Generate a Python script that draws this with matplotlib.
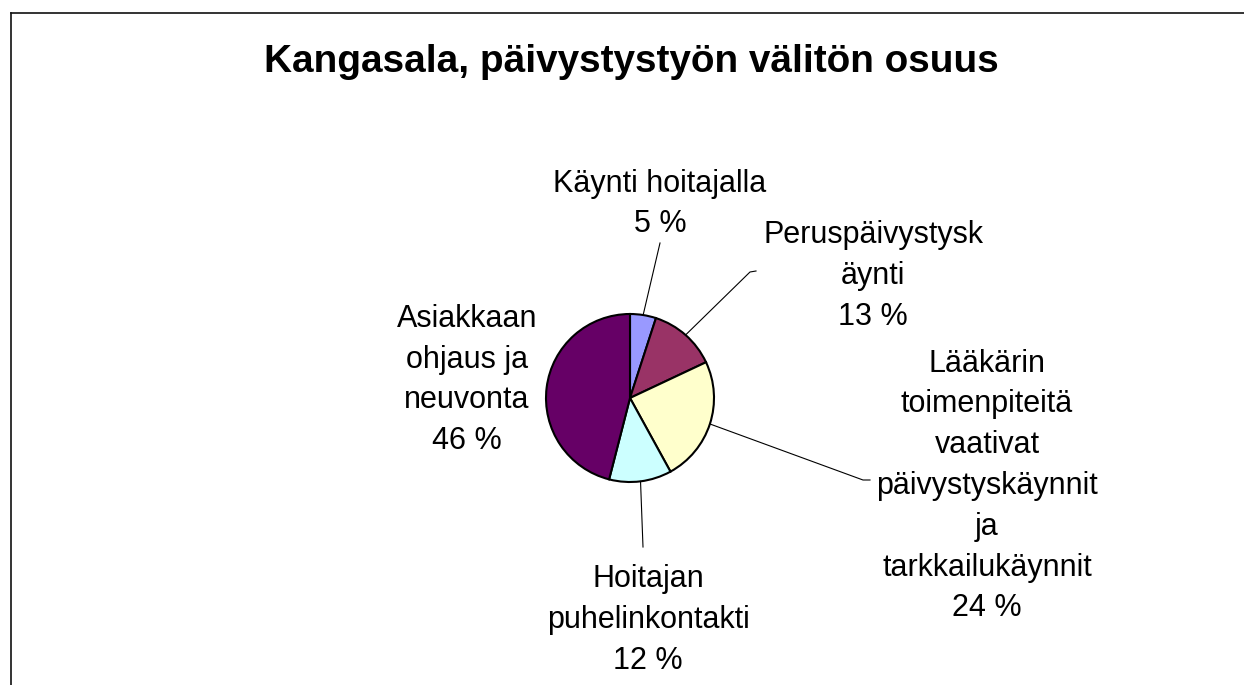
import numpy as np
import matplotlib
matplotlib.use("Agg")
import matplotlib.pyplot as plt
from matplotlib.lines import Line2D

plt.rcParams['font.family'] = ['Liberation Sans', 'DejaVu Sans']

title = "Kangasala, päivystystyön välitön osuus"
categories = [
    "Käynti hoitajalla",
    "Peruspäivystysk\näynti",
    "Lääkärin\ntoimenpiteitä\nvaativat\npäivystyskäynnit\nja\ntarkkailukäynnit",
    "Hoitajan\npuhelinkontakti",
    "Asiakkaan\nohjaus ja\nneuvonta",
]
values = [5, 13, 24, 12, 46]
colors = ["#9999FF", "#993366", "#FFFFCC", "#CCFFFF", "#660066"]

W, H = 1244, 685
fig = plt.figure(figsize=(W / 100, H / 100), dpi=100)
ax = fig.add_axes([0, 0, 1, 1])

cx, cy, r = 630, H - 398, 84
wedges, _ = ax.pie(values, colors=colors, startangle=90, counterclock=False,
                   center=(cx, cy), radius=r, frame=True,
                   wedgeprops=dict(edgecolor="black", linewidth=1.5))
ax.set_xlim(0, W)
ax.set_ylim(0, H)
ax.set_aspect('auto')
ax.axis('off')

# label layout (pixel coords, y from top)
label_pos = [(660, 204), (873, 276), (987, 486), (648, 620), (467, 380)]
leader_end = [[(660, 243)], [(750, 272), (756, 271)], [(863, 480), (870, 480)],
              [(643, 547)], None]

for w, cat, v, (lx, ly), le in zip(wedges, categories, values, label_pos, leader_end):
    ax.text(lx, H - ly, f"{cat}\n{v} %", ha="center", va="center",
            fontsize=22, linespacing=1.47, color="black")
    if le:
        ang = np.deg2rad((w.theta1 + w.theta2) / 2)
        xs = [cx + r * np.cos(ang)] + [p[0] for p in le]
        ys = [cy + r * np.sin(ang)] + [H - p[1] for p in le]
        ax.plot(xs, ys, color="black", linewidth=0.8)

fig.text(631 / W, 1 - 62 / H, title, ha="center", va="center",
         fontsize=27.9, fontweight="bold")

# outer frame (top and left edges visible)
fig.add_artist(Line2D([10.5 / W, 1], [1 - 13 / H, 1 - 13 / H],
                      transform=fig.transFigure, color="#111111", linewidth=1.2))
fig.add_artist(Line2D([10.5 / W, 10.5 / W], [0, 1 - 13 / H],
                      transform=fig.transFigure, color="#111111", linewidth=1.2))

fig.savefig("out.png", dpi=100, facecolor="white")
